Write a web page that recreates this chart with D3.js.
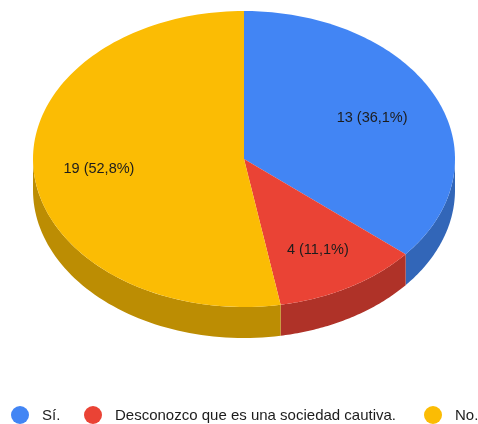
<!DOCTYPE html>
<html><head><meta charset="utf-8"><script src="https://cdn.jsdelivr.net/npm/d3@7"></script>
<style>html,body{margin:0;padding:0;background:#fff}svg{display:block}text{font-family:"Liberation Sans",Arial,sans-serif;fill:#1c1c1c}</style></head>
<body><svg id="c" width="478" height="424"><defs><filter id="b" x="-5%" y="-30%" width="110%" height="160%"><feGaussianBlur stdDeviation="0.45"/></filter></defs></svg>
<script>
const categories = ["Sí.", "Desconozco que es una sociedad cautiva.", "No."];
const values = [13, 4, 19];
const sliceLabels = ["13 (36,1%)", "4 (11,1%)", "19 (52,8%)"];
const colors = ["#4285f4", "#ea4335", "#fbbc04"];
const sideColors = ["#3266b8", "#af3228", "#bc8d03"];
const legendDotX = [20, 93, 433];
const labelRadii = [0.67, 0.70, 0.69];
const cx = 244, cy = 159, rx = 211, ry = 148, depth = 31;
const svg = d3.select("#c");
const arcs = d3.pie().sort(null)(values);
const px = a => cx + rx * Math.sin(a), py = a => cy - ry * Math.cos(a);
function sidePath(a0, a1) {
  const s = Math.max(a0, Math.PI / 2), e = Math.min(a1, 3 * Math.PI / 2);
  if (s >= e) return null;
  const pts = d3.range(0, 61).map(i => s + (e - s) * i / 60);
  const top = pts.map(a => [px(a), py(a)]);
  const bot = pts.slice().reverse().map(a => [px(a), py(a) + depth]);
  return d3.line()(top.concat(bot)) + "Z";
}
function topPath(a0, a1) {
  const n = 120, pts = [[cx, cy]];
  for (let i = 0; i <= n; i++) { const a = a0 + (a1 - a0) * i / n; pts.push([px(a), py(a)]); }
  return d3.line()(pts) + "Z";
}
svg.selectAll("path.side").data(arcs).join("path").attr("class", "side")
  .attr("d", d => sidePath(d.startAngle, d.endAngle)).attr("fill", (d, i) => sideColors[i]);
svg.selectAll("path.top").data(arcs).join("path").attr("class", "top")
  .attr("d", d => topPath(d.startAngle, d.endAngle)).attr("fill", (d, i) => colors[i]);
svg.selectAll("text.lab").data(arcs).join("text").attr("class", "lab")
  .attr("text-anchor", "middle").attr("dy", "0.35em").style("font-size", "14.5px").attr("filter", "url(#b)")
  .attr("x", (d, i) => cx + labelRadii[i] * rx * Math.sin((d.startAngle + d.endAngle) / 2))
  .attr("y", (d, i) => cy - labelRadii[i] * ry * Math.cos((d.startAngle + d.endAngle) / 2))
  .text((d, i) => sliceLabels[i]);
const lg = svg.selectAll("g.lg").data(categories).join("g").attr("class", "lg")
  .attr("transform", (d, i) => `translate(${legendDotX[i]},415)`);
lg.append("circle").attr("r", 9).attr("fill", (d, i) => colors[i]);
lg.append("text").attr("x", 22).attr("dy", "0.35em").style("font-size", "15px").attr("filter", "url(#b)").text(d => d);
</script></body></html>
